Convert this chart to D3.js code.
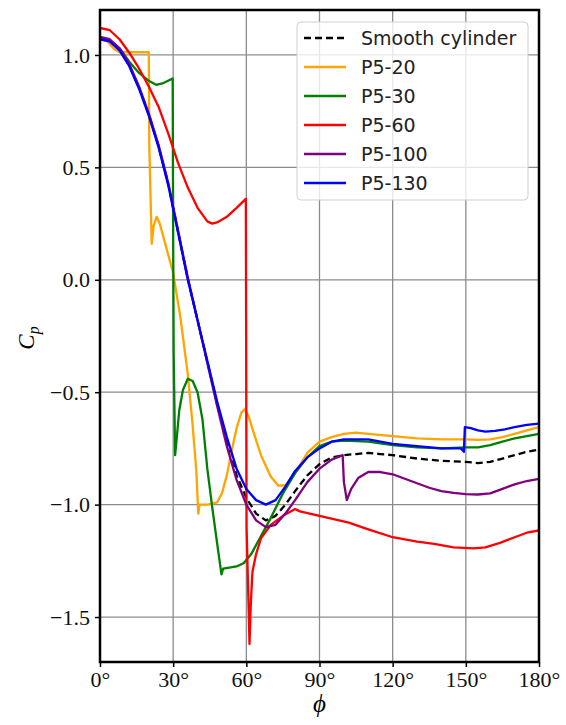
<!DOCTYPE html>
<html>
<head>
<meta charset="utf-8">
<script src="https://cdn.jsdelivr.net/npm/d3@7"></script>
<style>
  body { margin: 0; background: #fff; }
  svg { display: block; }
</style>
</head>
<body>
<div class="cp-chart"></div>
<script>
// phi in degrees, Cp values
var smooth = [[0,1.075],[4,1.065],[8,1.025],[12,0.955],[16,0.855],[20,0.735],[24,0.595],[28,0.425],[32,0.215],[36,0.005],
  [40,-0.18],[44,-0.365],[48,-0.55],[52,-0.72],[56,-0.87],[60,-0.97],[64,-1.04],[68,-1.07],[72,-1.05],[76,-1.0],
  [80,-0.94],[85,-0.87],[90,-0.82],[95,-0.79],[100,-0.78],[105,-0.775],[110,-0.77],[115,-0.775],[120,-0.78],[130,-0.795],
  [140,-0.805],[150,-0.81],[155,-0.815],[160,-0.81],[165,-0.795],[170,-0.78],[175,-0.765],[180,-0.755]];

var p520 = [[0,1.07],[3,1.06],[6,1.025],[8,1.012],[20,1.012],[20.2,0.6],[21.2,0.16],[22,0.24],[23.2,0.28],[24.5,0.25],
  [27,0.15],[30,0.03],[33,-0.17],[36,-0.42],[38,-0.65],[39.5,-0.85],[40.3,-1.04],[40.8,-1.0],[44,-1.0],[48,-0.99],
  [50,-0.95],[52,-0.87],[54,-0.76],[56,-0.66],[58,-0.59],[59.5,-0.575],[61,-0.61],[63,-0.68],[66,-0.78],[70,-0.875],
  [73,-0.915],[76,-0.915],[80,-0.86],[85,-0.77],[90,-0.72],[95,-0.70],[100,-0.685],[105,-0.68],[110,-0.685],[120,-0.695],
  [130,-0.705],[140,-0.71],[150,-0.71],[155,-0.712],[160,-0.71],[165,-0.70],[170,-0.685],[175,-0.67],[180,-0.655]];

var p530 = [[0,1.07],[4,1.065],[8,1.03],[12,0.97],[16,0.92],[20,0.885],[23,0.867],[26,0.875],[29.8,0.895],[30,0.2],
  [30.2,-0.32],[30.8,-0.78],[31.5,-0.70],[32.5,-0.58],[34,-0.49],[36,-0.44],[38,-0.45],[40,-0.50],[42,-0.62],[44,-0.84],
  [46,-1.01],[48,-1.17],[49.8,-1.31],[50.5,-1.285],[53,-1.28],[56,-1.275],[59,-1.26],[62,-1.22],[66,-1.14],[70,-1.06],
  [75,-0.95],[80,-0.86],[85,-0.79],[90,-0.74],[95,-0.72],[100,-0.715],[110,-0.72],[120,-0.735],[130,-0.745],[140,-0.75],
  [150,-0.745],[155,-0.745],[160,-0.735],[165,-0.72],[170,-0.705],[175,-0.695],[180,-0.685]];

var p560 = [[0,1.12],[4,1.11],[8,1.07],[12,1.01],[16,0.94],[20,0.86],[24,0.77],[28,0.65],[32,0.52],[36,0.41],
  [40,0.32],[44,0.26],[46,0.25],[48,0.255],[52,0.28],[56,0.32],[59.8,0.36],[60.1,-1.1],[61.3,-1.62],[61.8,-1.45],
  [62.5,-1.30],[64,-1.22],[66,-1.15],[70,-1.09],[75,-1.05],[80,-1.02],[82,-1.03],[90,-1.05],[102,-1.08],[110,-1.11],
  [120,-1.145],[130,-1.165],[137,-1.175],[145,-1.19],[153,-1.195],[158,-1.19],[164,-1.17],[170,-1.145],[175,-1.125],[180,-1.115]];

var p5100 = [[0,1.08],[4,1.07],[8,1.03],[12,0.96],[16,0.86],[20,0.74],[24,0.60],[28,0.43],[32,0.22],[36,0.01],
  [40,-0.18],[44,-0.37],[48,-0.56],[52,-0.74],[56,-0.89],[60,-1.0],[64,-1.07],[68,-1.10],[72,-1.09],[76,-1.04],
  [80,-0.98],[85,-0.90],[90,-0.84],[95,-0.80],[99.5,-0.78],[100,-0.90],[101.2,-0.98],[103,-0.93],[106,-0.88],[110,-0.855],
  [115,-0.855],[120,-0.865],[125,-0.885],[130,-0.905],[135,-0.925],[140,-0.94],[145,-0.948],[150,-0.953],[155,-0.955],
  [160,-0.95],[165,-0.93],[170,-0.91],[175,-0.895],[180,-0.885]];

var p5130 = [[0,1.07],[4,1.06],[8,1.02],[12,0.95],[16,0.85],[20,0.73],[24,0.59],[28,0.42],[32,0.21],[36,0.0],
  [40,-0.18],[44,-0.36],[48,-0.54],[52,-0.70],[56,-0.84],[60,-0.93],[64,-0.98],[68,-1.0],[72,-0.98],[76,-0.92],
  [80,-0.85],[85,-0.79],[90,-0.75],[95,-0.72],[100,-0.71],[110,-0.71],[120,-0.73],[130,-0.74],[140,-0.75],[148,-0.75],
  [149.2,-0.765],[149.6,-0.655],[152,-0.66],[155,-0.67],[158,-0.675],[162,-0.672],[166,-0.665],[170,-0.655],[175,-0.645],[180,-0.64]];

var seriesNames = ["Smooth cylinder", "P5-20", "P5-30", "P5-60", "P5-100", "P5-130"];
var seriesData = [smooth, p520, p530, p560, p5100, p5130];
var seriesColors = ["#000000", "#ffa500", "#008000", "#ff0000", "#800080", "#0000ff"];
var xTicks = [0, 30, 60, 90, 120, 150, 180];
var yTicks = [1.0, 0.5, 0.0, -0.5, -1.0, -1.5];

var margin = {top: 10, right: 27, bottom: 63, left: 100},
    width = 566 - margin.left - margin.right,
    height = 725 - margin.top - margin.bottom;

var svg = d3.select(".cp-chart")
    .append("svg")
    .attr("width", 566)
    .attr("height", 725);

var g = svg.append("g")
    .attr("transform", "translate(" + margin.left + "," + margin.top + ")");

var x = d3.scaleLinear().domain([0, 180]).range([0, width]);
var y = d3.scaleLinear().domain([-1.7, 1.2]).range([height, 0]);

// grid
g.append("g").selectAll("line")
    .data(xTicks).enter().append("line")
    .attr("x1", d => x(d)).attr("x2", d => x(d))
    .attr("y1", 0).attr("y2", height)
    .attr("stroke", "#8c8c8c").attr("stroke-width", 1.3);
g.append("g").selectAll("line")
    .data(yTicks).enter().append("line")
    .attr("x1", 0).attr("x2", width)
    .attr("y1", d => y(d)).attr("y2", d => y(d))
    .attr("stroke", "#8c8c8c").attr("stroke-width", 1.3);

// curves
var line = d3.line().x(d => x(d[0])).y(d => y(d[1]));
g.append("clipPath").attr("id", "clip")
    .append("rect").attr("width", width).attr("height", height);

g.append("g").attr("clip-path", "url(#clip)")
  .selectAll("path")
    .data(seriesData)
  .enter().append("path")
    .attr("d", line)
    .attr("fill", "none")
    .attr("stroke", (d, i) => seriesColors[i])
    .attr("stroke-width", 2.3)
    .attr("stroke-linejoin", "round")
    .attr("stroke-dasharray", (d, i) => i === 0 ? "7,4" : null);

// axes
var fmtY = d => (d < 0 ? "\u2212" : "") + Math.abs(d).toFixed(1);
var xAxis = g.append("g")
    .attr("transform", "translate(0," + height + ")")
    .call(d3.axisBottom(x).tickValues(xTicks).tickSize(5).tickPadding(4).tickFormat(d => d + "\u00b0"));
var yAxis = g.append("g")
    .call(d3.axisLeft(y).tickValues(yTicks).tickSize(5).tickPadding(5).tickFormat(fmtY));

[xAxis, yAxis].forEach(function(a) {
  a.select(".domain").remove();
  a.selectAll(".tick line").attr("stroke", "#000").attr("stroke-width", 1.5);
  a.selectAll(".tick text")
    .attr("fill", "#111")
    .style("font-family", "'Liberation Serif', 'Times New Roman', serif")
    .style("font-size", "22px");
});

g.append("rect")
    .attr("width", width).attr("height", height)
    .attr("fill", "none").attr("stroke", "#000").attr("stroke-width", 2.5);

// axis labels
svg.append("text")
    .attr("x", margin.left + width / 2)
    .attr("y", 712)
    .attr("text-anchor", "middle")
    .style("font-family", "'Liberation Serif', serif")
    .style("font-style", "italic")
    .style("font-size", "25px")
    .text("\u03d5");

var ylab = svg.append("text")
    .attr("transform", "translate(34,338) rotate(-90)")
    .attr("text-anchor", "middle")
    .style("font-family", "'Liberation Serif', serif")
    .style("font-style", "italic")
    .style("font-size", "23px");
ylab.append("tspan").text("C");
ylab.append("tspan").attr("dy", 5).style("font-size", "16px").text("p");

// legend
var leg = svg.append("g").attr("transform", "translate(297,22)");
leg.append("rect")
    .attr("width", 231).attr("height", 178).attr("rx", 4)
    .attr("fill", "#fff").attr("fill-opacity", 0.8)
    .attr("stroke", "#d0d0d0").attr("stroke-width", 1);

var items = leg.selectAll(".item")
    .data(seriesNames)
  .enter().append("g")
    .attr("transform", (d, i) => "translate(0," + (16 + i * 29) + ")");
items.append("line")
    .attr("x1", 7).attr("x2", 49)
    .attr("stroke", (d, i) => seriesColors[i])
    .attr("stroke-width", 2.3)
    .attr("stroke-dasharray", (d, i) => i === 0 ? "7,4" : null);
items.append("text")
    .attr("x", 64).attr("dy", "0.35em")
    .attr("fill", "#222")
    .style("font-family", "'DejaVu Sans', sans-serif")
    .style("font-size", "19px")
    .text(d => d);
</script>
</body>
</html>
